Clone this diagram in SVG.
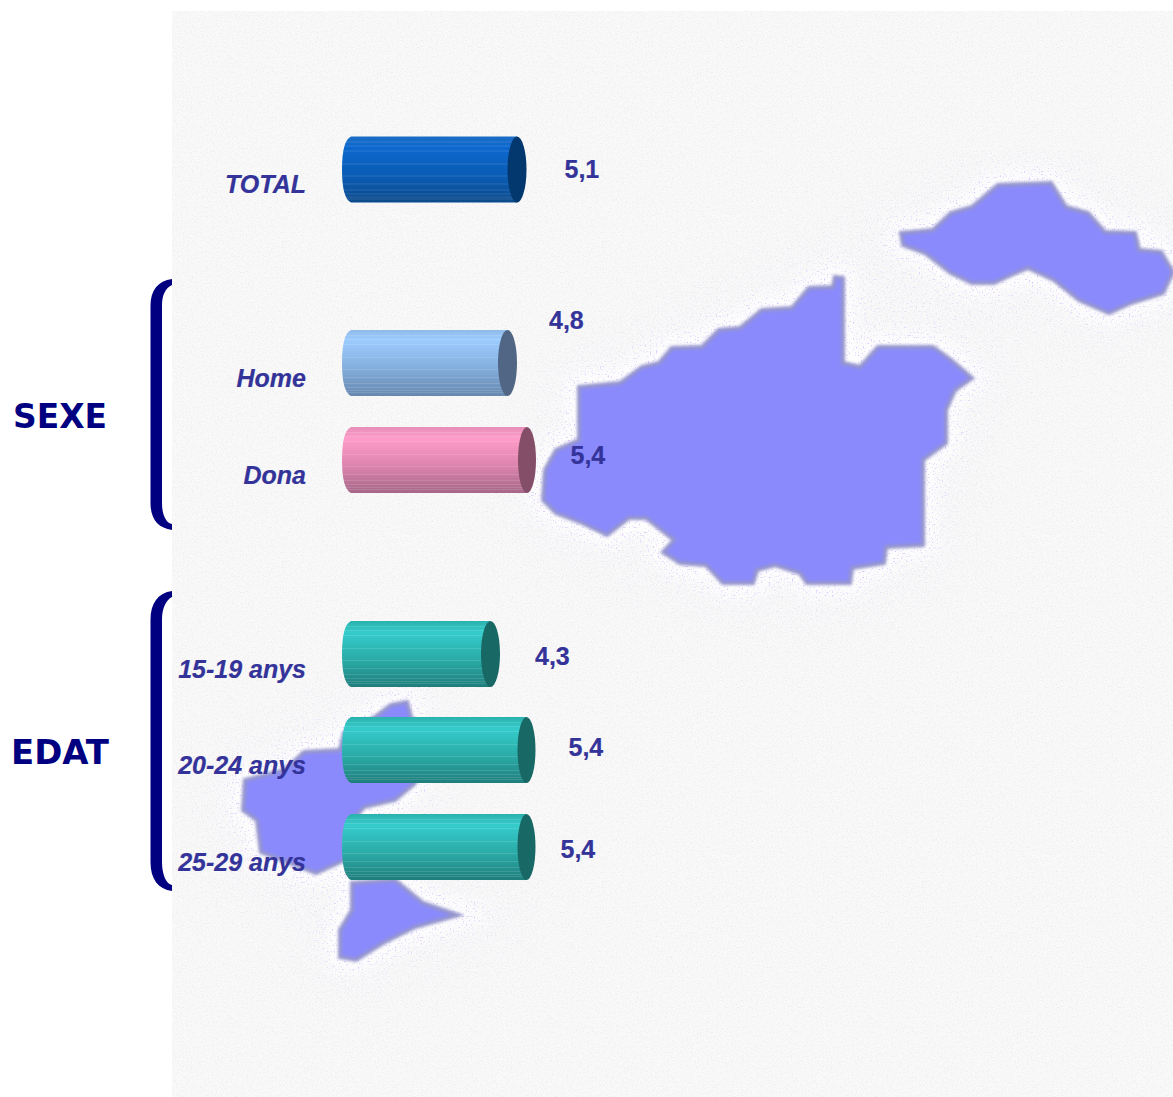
<svg xmlns="http://www.w3.org/2000/svg" width="1173" height="1097" viewBox="0 0 1173 1097">
<style>
.lab{font:italic bold 25px "Liberation Sans",Arial,sans-serif;fill:#333399;stroke:#333399;stroke-width:.2;text-anchor:end}
.val{font:bold 25px "Liberation Sans",Arial,sans-serif;fill:#333399;stroke:#333399;stroke-width:.2}
.grp{font:bold 34px "DejaVu Sans",sans-serif;fill:#000080}
.br{fill:#000080}
.st{fill:url(#stripes)}
</style>
<defs>
<linearGradient id="gBlue" x1="0" y1="0" x2="0" y2="1"><stop offset="0" stop-color="#1b6cc4"/><stop offset=".16" stop-color="#0c68cf"/><stop offset=".6" stop-color="#0a5cb4"/><stop offset="1" stop-color="#0b4a8c"/></linearGradient>
<linearGradient id="gSky" x1="0" y1="0" x2="0" y2="1"><stop offset="0" stop-color="#8fbbe8"/><stop offset=".15" stop-color="#9ccbff"/><stop offset=".55" stop-color="#85b1de"/><stop offset="1" stop-color="#6788b0"/></linearGradient>
<linearGradient id="gPink" x1="0" y1="0" x2="0" y2="1"><stop offset="0" stop-color="#e68fb8"/><stop offset=".17" stop-color="#ff9cc9"/><stop offset=".6" stop-color="#db83ad"/><stop offset="1" stop-color="#a56788"/></linearGradient>
<linearGradient id="gTeal" x1="0" y1="0" x2="0" y2="1"><stop offset="0" stop-color="#2bb1ad"/><stop offset=".17" stop-color="#35cccc"/><stop offset=".6" stop-color="#2aaaa6"/><stop offset="1" stop-color="#1f7e7c"/></linearGradient>
<pattern id="stripes" patternUnits="userSpaceOnUse" width="10" height="66">
<path d="M0 5.500H10M0 9.500H10M0 14.500H10M0 27.500H10M0 39.500H10M0 47.500H10M0 53.500H10M0 57.500H10M0 60.500H10M0 62.500H10" stroke="#fff" stroke-opacity=".12" stroke-width="1" fill="none"/>
</pattern>
<filter id="paper" x="0" y="0" width="1" height="1" color-interpolation-filters="sRGB"><feTurbulence type="fractalNoise" baseFrequency=".8" numOctaves="2" seed="3"/><feColorMatrix values="0 0 0 0 .93  0 0 0 0 .93  0 0 0 0 .93  0 0 0 3 -1.45"/></filter>
<filter id="speck" x="0" y="0" width="1" height="1" color-interpolation-filters="sRGB"><feTurbulence type="fractalNoise" baseFrequency=".62" numOctaves="1" seed="8"/><feColorMatrix values="0 0 0 0 .84  0 0 0 0 .76  0 0 0 0 1  0 0 7 0 -4.2"/></filter>
<filter id="dots" x="0" y="0" width="1" height="1" color-interpolation-filters="sRGB"><feTurbulence type="fractalNoise" baseFrequency=".6" numOctaves="1" seed="5"/><feColorMatrix values="0 0 0 0 .3  0 0 0 0 .3  0 0 0 0 .75  0 0 7 0 -3.9"/></filter>
<filter id="soft" x="-5%" y="-5%" width="110%" height="110%"><feGaussianBlur stdDeviation="1.6"/></filter>
<filter id="wide" x="-15%" y="-15%" width="130%" height="130%"><feGaussianBlur stdDeviation="9"/></filter>
<filter id="haze" x="-30%" y="-30%" width="160%" height="160%"><feGaussianBlur stdDeviation="32"/></filter>
<g id="isl">
<polygon points="835,277 843,278 843,363 860,367 878,347 933,347 951,360 972,378 955,390 946,410 946,443 923,460 923,545 886,547 884,563 852,568 850,583 807,583 800,573 775,565 757,570 753,583 723,583 706,565 680,563 663,552 674,540 646,518 629,518 607,535 582,523 556,513 543,500 545,470 556,450 579,440 579,387 620,383 642,367 659,363 672,348 702,347 719,330 740,328 762,310 792,308 809,288 833,287"/>
<polygon points="901,233 933,230 951,213 972,207 998,185 1051,183 1066,207 1088,213 1105,232 1135,233 1139,250 1161,252 1173,272 1163,293 1131,303 1109,313 1079,300 1054,280 1028,268 1011,275 994,283 972,283 951,273 925,253 903,245"/>
<polygon points="391,705 407,702 411,717 415,783 395,800 364,807 345,830 345,860 316,873 261,852 257,820 243,810 245,780 285,770 304,752 340,750 344,733 375,717"/>
<polygon points="352,883 395,880 423,903 458,915 415,927 383,943 356,960 340,957 340,930 352,910"/>
</g>
<mask id="nearIsl" maskUnits="userSpaceOnUse" x="0" y="0" width="1173" height="1097"><rect width="1173" height="1097" fill="#000"/><g fill="#888" stroke="#888" stroke-width="70" filter="url(#haze)"><use href="#isl"/></g><g fill="#fff" stroke="#fff" stroke-width="26" filter="url(#wide)"><use href="#isl"/></g></mask>
<clipPath id="islClip"><use href="#isl"/></clipPath>
</defs>
<rect width="1173" height="1097" fill="#fff"/>
<g id="background">
<rect x="172" y="11" width="1001" height="1086" fill="#f9f9f9"/>
<rect x="172" y="11" width="1001" height="1086" filter="url(#paper)"/>
<g fill="#fff" stroke="#fff" stroke-width="22" filter="url(#wide)"><use href="#isl"/></g>
<rect x="172" y="150" width="1001" height="947" filter="url(#speck)" mask="url(#nearIsl)"/>
</g>
<g id="map">
<g fill="#8a8afc" stroke="#9494cc" stroke-width="4" filter="url(#soft)"><use href="#isl"/></g>
<rect x="172" y="170" width="1001" height="800" filter="url(#dots)" clip-path="url(#islClip)" opacity=".6"/>
</g>
<g id="bracket-sexe"><path class="br" d="M172 279C158 281 150.500 290 150.500 306V503C150.500 519 158 528 172 530V524C166 523 162 515 162 503V306C162 294 166 288 172 285Z"/></g>
<g id="bracket-edat"><path class="br" d="M172 591C158 593 150.500 603 150.500 620V862C150.500 879 158 889 172 891V885C166 884 162 874 162 862V620C162 608 166 600 172 597Z"/></g>
<g id="label-sexe"><text class="grp" x="13" y="428" textLength="94" lengthAdjust="spacingAndGlyphs">SEXE</text></g>
<g id="label-edat"><text class="grp" x="11" y="764" textLength="98" lengthAdjust="spacingAndGlyphs">EDAT</text></g>
<g id="bar-total" transform="translate(342 136.500)">
<path fill="url(#gBlue)" d="M9 0H175V66H9Q0 62 0 33Q0 4 9 0Z"/><path class="st" d="M9 0H175V66H9Q0 62 0 33Q0 4 9 0Z"/>
<ellipse cx="175" cy="33" rx="9.500" ry="33" fill="#03386e"/>
</g>
<g id="node-total"><text class="lab" x="306" y="193">TOTAL</text><text class="val" x="564.500" y="178">5,1</text></g>
<g id="bar-home" transform="translate(342 330)">
<path fill="url(#gSky)" d="M9 0H165.500V66H9Q0 62 0 33Q0 4 9 0Z"/><path class="st" d="M9 0H165.500V66H9Q0 62 0 33Q0 4 9 0Z"/>
<ellipse cx="165.500" cy="33" rx="9.500" ry="33" fill="#506684"/>
</g>
<g id="node-home"><text class="lab" x="306" y="387">Home</text><text class="val" x="549" y="329">4,8</text></g>
<g id="bar-dona" transform="translate(342 427)">
<path fill="url(#gPink)" d="M9 0H185V66H9Q0 62 0 33Q0 4 9 0Z"/><path class="st" d="M9 0H185V66H9Q0 62 0 33Q0 4 9 0Z"/>
<ellipse cx="185" cy="33" rx="9" ry="33" fill="#854e68"/>
</g>
<g id="node-dona"><text class="lab" x="306" y="484">Dona</text><text class="val" x="570.500" y="464">5,4</text></g>
<g id="bar-1519" transform="translate(342 621)">
<path fill="url(#gTeal)" d="M9 0H148.500V66H9Q0 62 0 33Q0 4 9 0Z"/><path class="st" d="M9 0H148.500V66H9Q0 62 0 33Q0 4 9 0Z"/>
<ellipse cx="148.500" cy="33" rx="9.500" ry="33" fill="#186866"/>
</g>
<g id="node-1519"><text class="lab" x="306" y="678">15-19 anys</text><text class="val" x="535" y="665">4,3</text></g>
<g id="bar-2024" transform="translate(342 717)">
<path fill="url(#gTeal)" d="M9 0H184.500V66H9Q0 62 0 33Q0 4 9 0Z"/><path class="st" d="M9 0H184.500V66H9Q0 62 0 33Q0 4 9 0Z"/>
<ellipse cx="184.500" cy="33" rx="9" ry="33" fill="#186866"/>
</g>
<g id="node-2024"><text class="lab" x="306" y="774">20-24 anys</text><text class="val" x="568.500" y="756">5,4</text></g>
<g id="bar-2529" transform="translate(342 814)">
<path fill="url(#gTeal)" d="M9 0H184.500V66H9Q0 62 0 33Q0 4 9 0Z"/><path class="st" d="M9 0H184.500V66H9Q0 62 0 33Q0 4 9 0Z"/>
<ellipse cx="184.500" cy="33" rx="9" ry="33" fill="#186866"/>
</g>
<g id="node-2529"><text class="lab" x="306" y="871">25-29 anys</text><text class="val" x="560.500" y="858">5,4</text></g>
</svg>
